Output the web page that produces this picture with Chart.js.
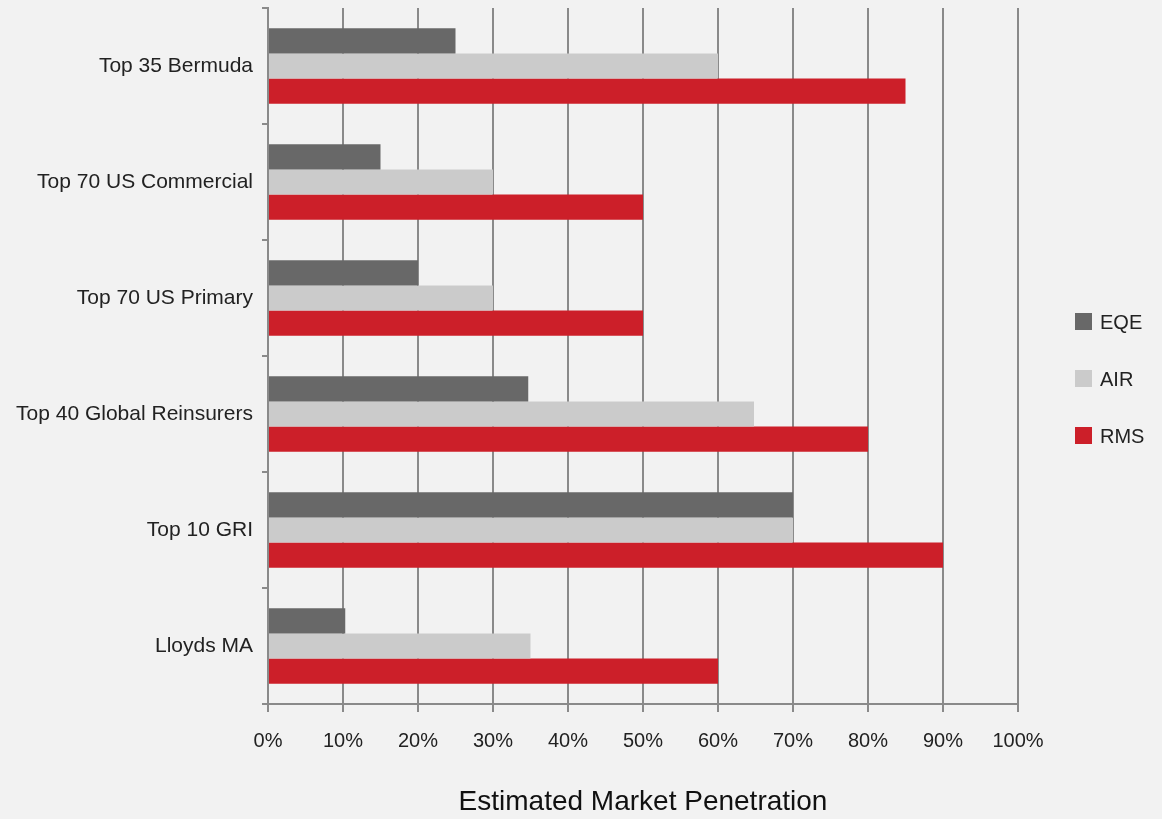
<!DOCTYPE html>
<html>
<head>
<meta charset="utf-8">
<script src="https://cdn.jsdelivr.net/npm/chart.js@4/dist/chart.umd.min.js"></script>
<style>
  html, body { margin: 0; padding: 0; background: #f2f2f2; }
  #wrap { width: 1162px; height: 819px; }
</style>
</head>
<body>
<div id="wrap"><canvas id="myChart" width="1162" height="819"></canvas></div>
<script>
// chart data
const categories = ['Top 35 Bermuda', 'Top 70 US Commercial', 'Top 70 US Primary', 'Top 40 Global Reinsurers', 'Top 10 GRI', 'Lloyds MA'];
const eqeValues = [25, 15, 20, 34.7, 70, 10.3];
const airValues = [60, 30, 30, 64.8, 70, 35];
const rmsValues = [85, 50, 50, 80, 90, 60];
const xTicks = [0, 10, 20, 30, 40, 50, 60, 70, 80, 90, 100];

const FONT = "'Liberation Sans', Arial, sans-serif";
const GRID = '#8a8a8a';

// paint the grey background
const background = {
	id: 'background',
	beforeDraw(chart) {
		const ctx = chart.ctx;
		ctx.save();
		ctx.fillStyle = '#f2f2f2';
		ctx.fillRect(0, 0, chart.width, chart.height);
		ctx.restore();
	},
};

// legend drawn at the right, spaced like the original
const sideLegend = {
	id: 'sideLegend',
	afterDraw(chart) {
		const ctx = chart.ctx;
		const sets = chart.data.datasets;
		const x = chart.chartArea.right + 57;
		const gap = 57;
		const midY = 379;
		ctx.save();
		ctx.font = '20px ' + FONT;
		ctx.textBaseline = 'middle';
		sets.forEach((ds, i) => {
			const y = midY + (i - 1) * gap;
			ctx.fillStyle = ds.backgroundColor;
			ctx.fillRect(x, y - 9, 17, 17);
			ctx.fillStyle = '#222';
			ctx.fillText(ds.label, x + 25, y + 1);
		});
		ctx.restore();
	},
};

const ctx = document.getElementById('myChart');
const myChart = new Chart(ctx, {
	type: 'bar',
	data: {
		labels: categories,
		datasets: [
			{ label: 'EQE', data: eqeValues, backgroundColor: '#686868' },
			{ label: 'AIR', data: airValues, backgroundColor: '#cbcbcb' },
			{ label: 'RMS', data: rmsValues, backgroundColor: '#cc1f29' },
		],
	},
	options: {
		indexAxis: 'y',
		responsive: false,
		animation: false,
		datasets: {
			bar: { barPercentage: 1, categoryPercentage: 0.65 },
		},
		layout: { padding: { top: 8, right: 144, bottom: 0, left: 0 } },
		plugins: {
			legend: { display: false },
			tooltip: { enabled: false },
		},
		scales: {
			x: {
				min: 0,
				max: 100,
				afterBuildTicks: (scale) => {
					scale.ticks = xTicks.map((v) => ({ value: v }));
				},
				afterFit: (scale) => {
					scale.height = 115;
				},
				grid: { color: GRID, lineWidth: 2, tickLength: 8 },
				border: { color: GRID, width: 2 },
				ticks: {
					padding: 17,
					color: '#222',
					font: { family: FONT, size: 20 },
					callback: (v) => v + '%',
				},
				title: {
					display: true,
					text: 'Estimated Market Penetration',
					color: '#111',
					font: { family: FONT, size: 28 },
					padding: { top: 0, bottom: 0 },
				},
			},
			y: {
				afterFit: (scale) => {
					scale.width = 268;
					scale.paddingTop = 0;
					scale.paddingBottom = 0;
				},
				grid: { color: GRID, lineWidth: 2, drawOnChartArea: false, tickLength: 6 },
				border: { color: GRID, width: 2 },
				ticks: {
					padding: 9,
					color: '#222',
					font: { family: FONT, size: 21 },
				},
			},
		},
	},
	plugins: [background, sideLegend],
});
</script>
</body>
</html>
